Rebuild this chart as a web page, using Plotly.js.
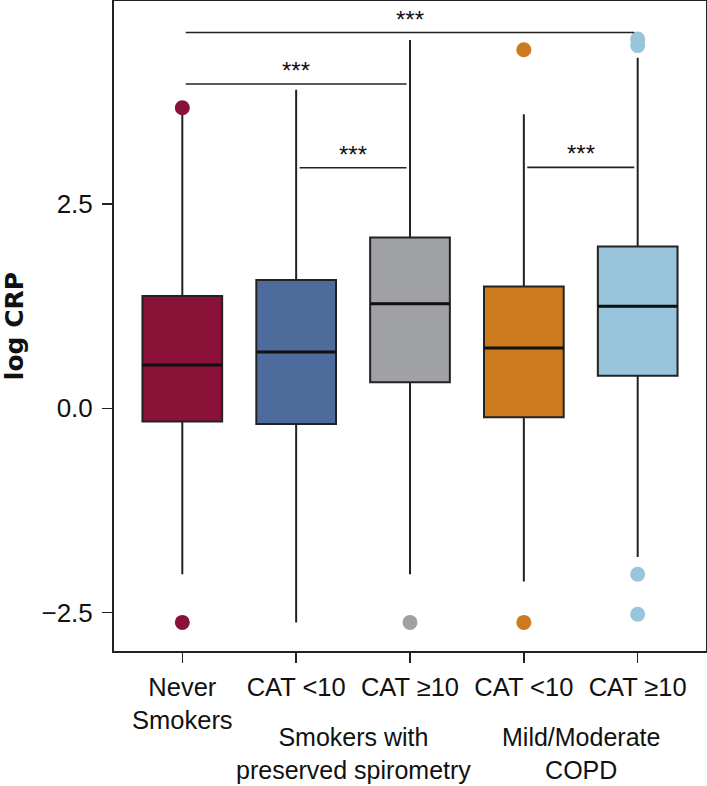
<!DOCTYPE html>
<html>
<head>
<meta charset="utf-8">
<script src="https://cdn.plot.ly/plotly-3.0.1.min.js"></script>
<style>html,body{margin:0;padding:0;background:#fff;}#chart{width:707px;height:786px;}</style>
</head>
<body>
<div id="chart"></div>
<script>
// ---- data ----
var categories = ["Never<br>Smokers", "CAT <10", "CAT \u226510", "CAT <10", "CAT \u226510"];
var q1Values     = [-0.16, -0.19, 0.32, -0.11, 0.40];
var medianValues = [0.53, 0.69, 1.28, 0.74, 1.25];
var q3Values     = [1.375, 1.57, 2.09, 1.49, 1.98];
var lowerWhisker = [-2.03, -2.62, -2.03, -2.12, -1.82];
var upperWhisker = [3.62, 3.90, 4.51, 3.60, 4.29];
var outliers = [
  [3.68, -2.62],
  [],
  [-2.62],
  [4.39, -2.62],
  [4.52, 4.44, -2.03, -2.52]
];
var groupLabels = ["Smokers with<br>preserved spirometry", "Mild/Moderate<br>COPD"];
var groupPositions = [1.5, 3.5];
var bracketFrom  = [0, 0, 1, 3];
var bracketTo    = [4, 2, 2, 4];
var bracketY     = [4.60, 3.97, 2.945, 2.95];
var bracketLabel = ["***", "***", "***", "***"];

// ---- styles ----
var colors = ["#8a1238", "#4e6c9b", "#a0a1a5", "#cb7a1d", "#98c4dc"];
var FONT = "'Liberation Sans', Arial, Helvetica, sans-serif";
var INK = "#222222";
var BOXW = 0.7;

var traces = [];
categories.forEach(function (c, i) {
  traces.push({
    type: "box",
    x: [i],
    q1: [q1Values[i]],
    median: [medianValues[i]],
    q3: [q3Values[i]],
    lowerfence: [lowerWhisker[i]],
    upperfence: [upperWhisker[i]],
    width: BOXW,
    whiskerwidth: 0,
    fillcolor: colors[i],
    line: {color: INK, width: 2},
    boxpoints: false,
    hoverinfo: "skip",
    showlegend: false
  });
});
categories.forEach(function (c, i) {
  if (!outliers[i].length) return;
  traces.push({
    type: "scatter",
    mode: "markers",
    x: outliers[i].map(function () { return i; }),
    y: outliers[i],
    marker: {color: colors[i], size: 15, line: {width: 0}},
    hoverinfo: "skip",
    showlegend: false
  });
});

var inset = 0.03;
var shapes = bracketFrom.map(function (f, k) {
  return {
    type: "line", xref: "x", yref: "y",
    x0: f + inset, x1: bracketTo[k] - inset,
    y0: bracketY[k], y1: bracketY[k],
    line: {color: INK, width: 1.6}
  };
});
// darker, slightly heavier median bars
medianValues.forEach(function (m, i) {
  shapes.push({
    type: "line", xref: "x", yref: "y",
    x0: i - BOXW / 2, x1: i + BOXW / 2, y0: m, y1: m,
    line: {color: "#111", width: 3}
  });
});

var annotations = bracketFrom.map(function (f, k) {
  return {
    xref: "x", yref: "y",
    x: (f + bracketTo[k]) / 2, y: bracketY[k],
    text: bracketLabel[k], showarrow: false,
    yanchor: "bottom", yshift: -2,
    font: {family: FONT, size: 24, color: "#111"}
  };
});
groupLabels.forEach(function (g, k) {
  annotations.push({
    xref: "x", yref: "paper",
    x: groupPositions[k], y: -0.107,
    text: g, showarrow: false, align: "center",
    yanchor: "top",
    font: {family: FONT, size: 25, color: "#111"}
  });
});

var layout = {
  width: 707, height: 786,
  margin: {l: 114, r: 1, t: 1, b: 135},
  paper_bgcolor: "#fff", plot_bgcolor: "#fff",
  font: {family: FONT, size: 25, color: "#111"},
  boxmode: "overlay",
  showlegend: false,
  xaxis: {
    type: "linear",
    range: [-0.6, 4.6],
    tickvals: categories.map(function (c, i) { return i; }),
    ticktext: categories,
    ticks: "outside", ticklen: 10, tickwidth: 1.6, tickcolor: INK,
    showline: true, linecolor: INK, linewidth: 2, mirror: true,
    showgrid: false, zeroline: false,
    tickfont: {family: FONT, size: 25.5, color: "#111"},
    ticklabelstandoff: 2
  },
  yaxis: {
    range: [-2.97, 4.986],
    tickvals: [-2.5, 0, 2.5],
    tickformat: ".1f",
    ticks: "outside", ticklen: 10, tickwidth: 1.6, tickcolor: INK,
    showline: true, linecolor: INK, linewidth: 2, mirror: true,
    showgrid: false, zeroline: false,
    tickfont: {family: FONT, size: 26, color: "#111"},
    ticklabelstandoff: 4,
    title: {text: "<b>log CRP</b>", font: {family: "'DejaVu Sans', " + FONT, size: 25, color: "#111"}, standoff: 14}
  },
  shapes: shapes,
  annotations: annotations
};

Plotly.newPlot("chart", traces, layout, {displayModeBar: false, staticPlot: true});
</script>
</body>
</html>
